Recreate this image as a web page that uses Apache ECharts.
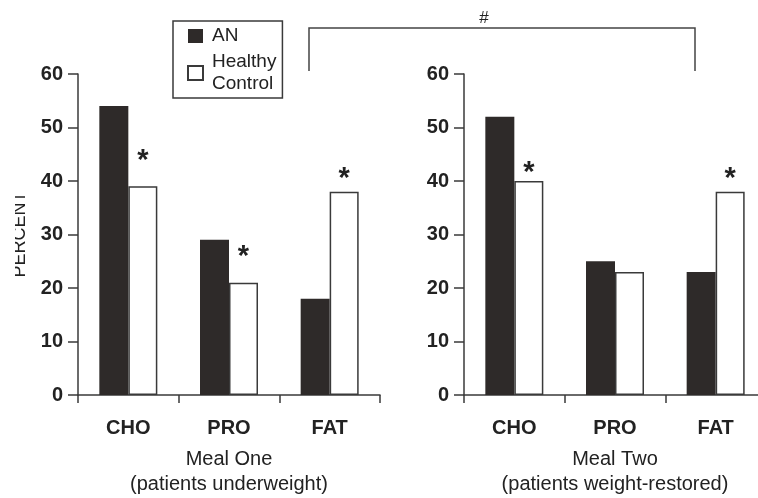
<!DOCTYPE html>
<html>
<head>
<meta charset="UTF-8">
<title>Meal macronutrient percent</title>
<style>
html,body{margin:0;padding:0;background:#fff;}
#main{width:758px;height:498px;}
</style>
</head>
<body>
<div id="main"></div>
<script src="https://cdn.jsdelivr.net/npm/echarts@6/dist/echarts.min.js"></script>
<script>
// data
var categories = ['CHO', 'PRO', 'FAT'];
var mealOneAN = [54, 29, 18];
var mealOneHC = [39, 21, 38];
var mealTwoAN = [52, 25, 23];
var mealTwoHC = [40, 23, 38];
var yTicks = [0, 10, 20, 30, 40, 50, 60];
// which control bars carry a "*"
var mealOneStar = [true, true, true];
var mealTwoStar = [true, false, true];

var dark = '#2e2a29';
var axisCol = '#3a3a3a';
var font = '"Liberation Sans", Arial, sans-serif';

var myChart = echarts.init(document.getElementById('main'));

function starData(vals, stars, dist) {
	return vals.map(function (v, i) {
		return {
			value: v,
			label: { show: stars[i], distance: dist[i] }
		};
	});
}

function yAx(idx, withName) {
	return {
		type: 'value', gridIndex: idx, min: yTicks[0], max: yTicks[yTicks.length - 1], interval: 10,
		splitLine: { show: false },
		axisLine: { show: true, lineStyle: { color: axisCol, width: 1.5 } },
		axisTick: { show: true, length: 10, lineStyle: { color: axisCol, width: 1.5 } },
		axisLabel: { margin: 15, color: '#222', fontSize: 20, fontWeight: 'bold', fontFamily: font },
		name: withName ? 'PERCENT' : '',
		nameLocation: 'middle', nameRotate: 90, nameGap: 49,
		nameTextStyle: { color: '#222', fontSize: 18, fontFamily: font }
	};
}

function xAx(idx, title) {
	return {
		type: 'category', gridIndex: idx, data: categories,
		axisLine: { show: true, lineStyle: { color: axisCol, width: 1.5 } },
		axisTick: { show: true, length: 8, lineStyle: { color: axisCol, width: 1.5 } },
		axisLabel: { margin: 23, color: '#222', fontSize: 20, fontWeight: 'bold', fontFamily: font },
		name: title, nameLocation: 'middle', nameGap: 52,
		nameTextStyle: { color: '#222', fontSize: 20, lineHeight: 25, fontFamily: font }
	};
}

var hcStyle = { color: '#fff', borderColor: axisCol, borderWidth: 1.5 };
var starLabel = {
	position: 'top', formatter: '*', color: '#222',
	fontSize: 29, fontWeight: 'bold', fontFamily: font
};

myChart.setOption({
	backgroundColor: '#fff',
	animation: false,
	grid: [
		{ left: 78, right: 378, top: 74, bottom: 103, outerBoundsMode: 'none' },
		{ left: 464, right: -8, top: 74, bottom: 103, outerBoundsMode: 'none' }
	],
	legend: {
		orient: 'vertical', left: 173, top: 21,
		data: ['AN', 'Healthy Control'],
		icon: 'rect', itemWidth: 15, itemHeight: 14, itemGap: 4,
		padding: [4, 6, 3, 14],
		borderColor: axisCol, borderWidth: 1.5,
		formatter: function (n) { return n.replace(' ', '\n'); },
		textStyle: { color: '#222', fontSize: 19, lineHeight: 22, fontFamily: font, padding: [0, 0, 0, 4] }
	},
	xAxis: [xAx(0, 'Meal One\n(patients underweight)'), xAx(1, 'Meal Two\n(patients weight-restored)')],
	yAxis: [yAx(0, true), yAx(1, false)],
	series: [
		{ name: 'AN', type: 'bar', xAxisIndex: 0, yAxisIndex: 0, barWidth: 29, barGap: '0%',
			itemStyle: { color: dark }, data: mealOneAN },
		{ name: 'Healthy Control', type: 'bar', xAxisIndex: 0, yAxisIndex: 0, barWidth: 29, barGap: '0%',
			itemStyle: hcStyle, label: starLabel,
			data: starData(mealOneHC, mealOneStar, [11, 11, -2]) },
		{ name: 'AN', type: 'bar', xAxisIndex: 1, yAxisIndex: 1, barWidth: 29, barGap: '0%',
			itemStyle: { color: dark }, data: mealTwoAN },
		{ name: 'Healthy Control', type: 'bar', xAxisIndex: 1, yAxisIndex: 1, barWidth: 29, barGap: '0%',
			itemStyle: hcStyle, label: starLabel,
			data: starData(mealTwoHC, mealTwoStar, [-6, 0, -2]) }
	],
	graphic: [
		{ type: 'rect', left: 0, top: 180, shape: { width: 15, height: 120 }, style: { fill: '#fff' }, z: 100 },
		{ type: 'polyline', shape: { points: [[309, 71], [309, 28], [695, 28], [695, 71]] },
			style: { stroke: '#444', lineWidth: 1.5, fill: null } },
		{ type: 'text', x: 484, y: 18, style: { text: '#', fontSize: 17, fontFamily: font, fill: '#222',
			align: 'center', verticalAlign: 'middle' } }
	]
});
</script>
</body>
</html>
